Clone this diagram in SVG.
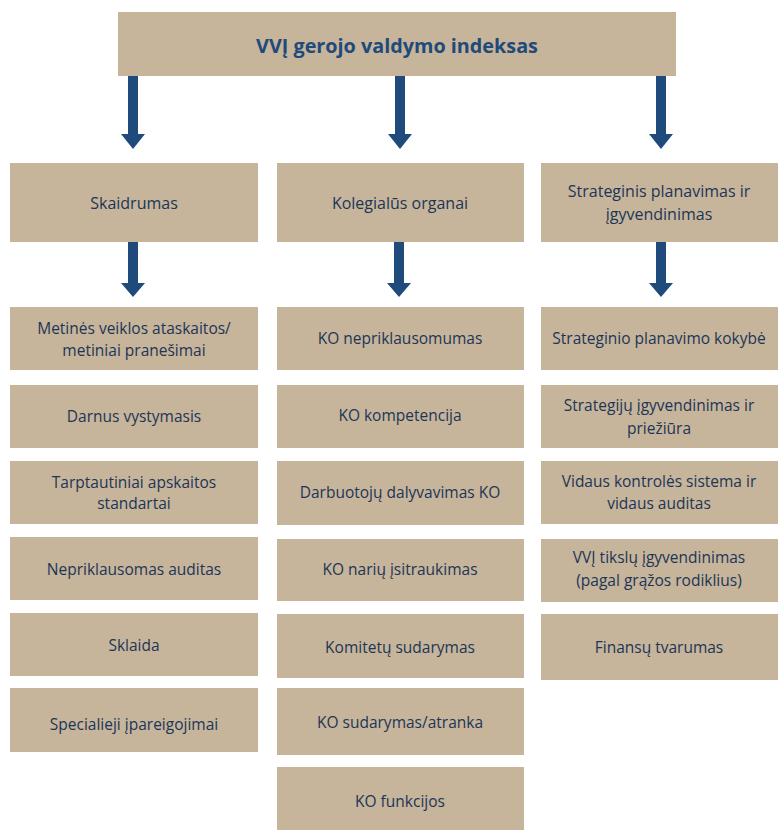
<svg xmlns="http://www.w3.org/2000/svg" width="778" height="830" viewBox="0 0 778 830">
<style>
.box{fill:#c6b49b;}
.t{font-family:"Open Sans","Liberation Sans",sans-serif;font-size:15.5px;fill:#1c3657;text-anchor:middle;}
.s{font-family:"Open Sans","Liberation Sans",sans-serif;font-size:16px;fill:#1c3657;text-anchor:middle;}
.h{font-family:"Open Sans","Liberation Sans",sans-serif;font-size:19.8px;font-weight:bold;fill:#1f4a7a;text-anchor:middle;}
.arr{fill:#1f4a7c;}
</style>
<defs>
<path id="ar" d="M-5,0 H5 V58 H12 L0,73 L-12,58 H-5 Z"/>
<path id="ar2" d="M-5,0 H5 V41 H12 L0,55 L-12,41 H-5 Z"/>
</defs>
<rect width="778" height="830" fill="#ffffff"/>
<g id="connectors">
<use href="#ar" class="arr" x="133" y="76"/>
<use href="#ar" class="arr" x="400" y="76"/>
<use href="#ar" class="arr" x="661" y="76"/>
<use href="#ar2" class="arr" x="133" y="242"/>
<use href="#ar2" class="arr" x="399" y="242"/>
<use href="#ar2" class="arr" x="661" y="242"/>
</g>
<g id="root"><rect class="box" x="118" y="12" width="558" height="64"/><text class="h" x="397" y="53">VVĮ gerojo valdymo indeksas</text></g>
<g id="skaidrumas"><rect class="box" x="10" y="163" width="248" height="79"/><text class="s" x="134" y="209">Skaidrumas</text></g>
<g id="kolegialus"><rect class="box" x="277" y="163" width="247" height="79"/><text class="s" x="400" y="209">Kolegialūs organai</text></g>
<g id="strateginis"><rect class="box" x="541" y="163" width="237" height="79"/><text class="s" x="659" y="197">Strateginis planavimas ir</text><text class="s" x="659" y="220">įgyvendinimas</text></g>

<g id="c1r1"><rect class="box" x="10" y="307" width="248" height="63"/><text class="t" x="134" y="334">Metinės veiklos ataskaitos/</text><text class="t" x="134" y="356">metiniai pranešimai</text></g>
<g id="c1r2"><rect class="box" x="10" y="385" width="248" height="63"/><text class="t" x="134" y="422">Darnus vystymasis</text></g>
<g id="c1r3"><rect class="box" x="10" y="461" width="248" height="63"/><text class="t" x="134" y="488">Tarptautiniai apskaitos</text><text class="t" x="134" y="509">standartai</text></g>
<g id="c1r4"><rect class="box" x="10" y="537" width="248" height="63"/><text class="t" x="134" y="575">Nepriklausomas auditas</text></g>
<g id="c1r5"><rect class="box" x="10" y="613" width="248" height="63"/><text class="t" x="134" y="651">Sklaida</text></g>
<g id="c1r6"><rect class="box" x="10" y="688" width="248" height="64"/><text class="t" x="134" y="730">Specialieji įpareigojimai</text></g>

<g id="c2r1"><rect class="box" x="277" y="307" width="247" height="63"/><text class="t" x="400" y="344">KO nepriklausomumas</text></g>
<g id="c2r2"><rect class="box" x="277" y="385" width="247" height="63"/><text class="t" x="400" y="421">KO kompetencija</text></g>
<g id="c2r3"><rect class="box" x="277" y="461" width="247" height="64"/><text class="t" x="400" y="498">Darbuotojų dalyvavimas KO</text></g>
<g id="c2r4"><rect class="box" x="277" y="539" width="247" height="62"/><text class="t" x="400" y="575">KO narių įsitraukimas</text></g>
<g id="c2r5"><rect class="box" x="277" y="614" width="247" height="64"/><text class="t" x="400" y="653">Komitetų sudarymas</text></g>
<g id="c2r6"><rect class="box" x="277" y="688" width="247" height="67"/><text class="t" x="400" y="728">KO sudarymas/atranka</text></g>
<g id="c2r7"><rect class="box" x="277" y="767" width="247" height="63"/><text class="t" x="400" y="807">KO funkcijos</text></g>

<g id="c3r1"><rect class="box" x="541" y="307" width="237" height="63"/><text class="t" x="659" y="344">Strateginio planavimo kokybė</text></g>
<g id="c3r2"><rect class="box" x="541" y="385" width="237" height="63"/><text class="t" x="659" y="411">Strategijų įgyvendinimas ir</text><text class="t" x="659" y="434">priežiūra</text></g>
<g id="c3r3"><rect class="box" x="541" y="461" width="237" height="63"/><text class="t" x="659" y="487">Vidaus kontrolės sistema ir</text><text class="t" x="659" y="509">vidaus auditas</text></g>
<g id="c3r4"><rect class="box" x="541" y="539" width="237" height="63"/><text class="t" x="659" y="563">VVĮ tikslų įgyvendinimas</text><text class="t" x="659" y="586">(pagal grąžos rodiklius)</text></g>
<g id="c3r5"><rect class="box" x="541" y="614" width="237" height="66"/><text class="t" x="659" y="653">Finansų tvarumas</text></g>
</svg>
